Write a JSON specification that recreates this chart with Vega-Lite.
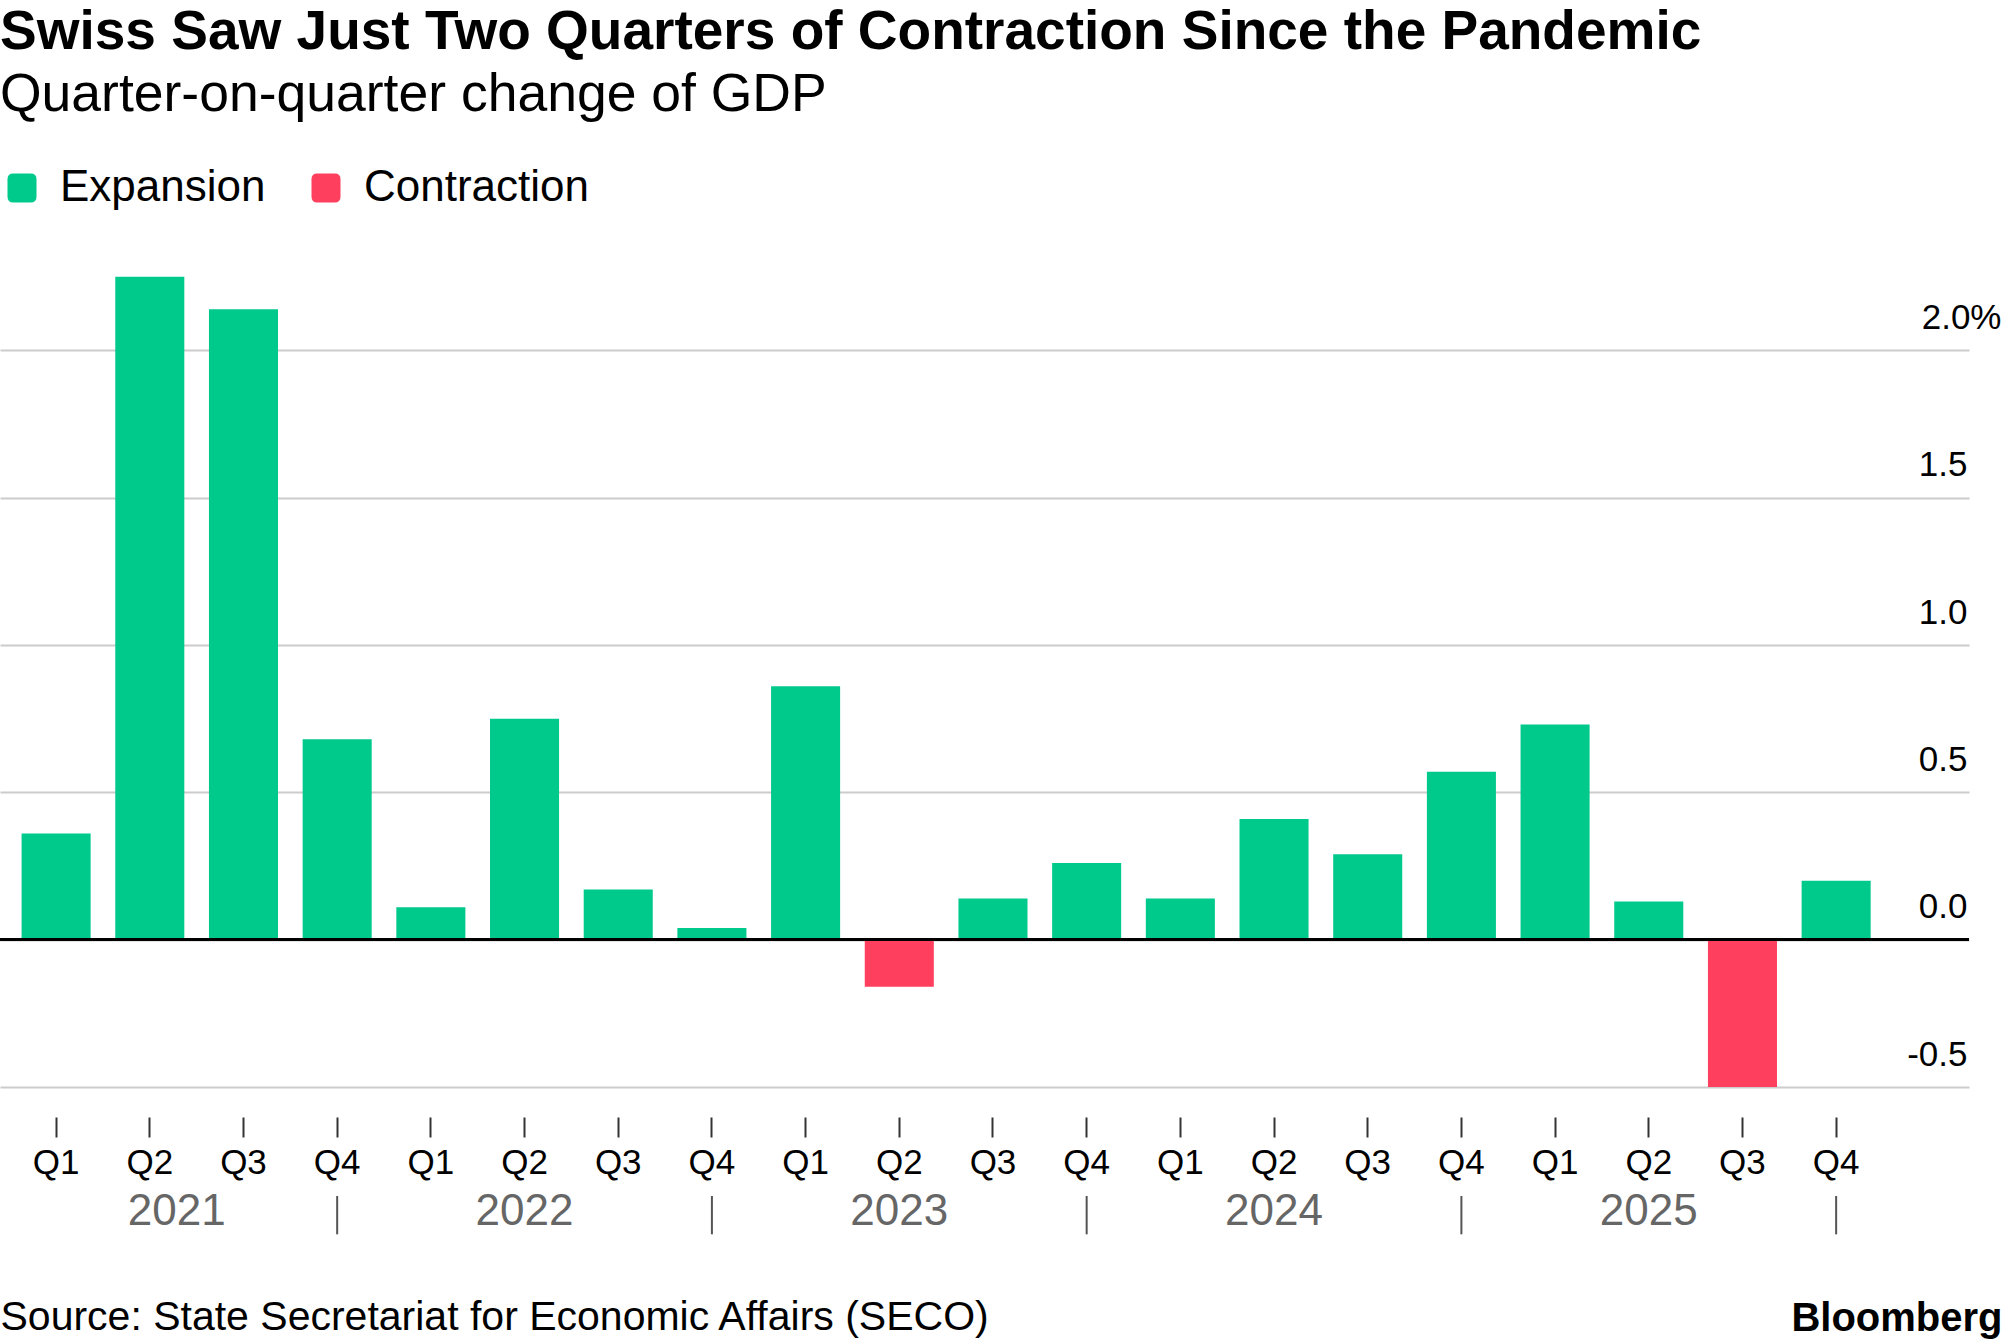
{
  "$schema": "https://vega.github.io/schema/vega-lite/v6.json",
  "width": 1969,
  "height": 825,
  "autosize": "none",
  "padding": {"left": 0, "top": 262, "right": 36, "bottom": 257},
  "background": "white",
  "title": {
    "text": "Swiss Saw Just Two Quarters of Contraction Since the Pandemic",
    "subtitle": "Quarter-on-quarter change of GDP",
    "anchor": "start",
    "frame": "group",
    "offset": 44,
    "font": "Liberation Sans",
    "fontSize": 55,
    "fontWeight": "bold",
    "color": "#000000",
    "subtitleFont": "Liberation Sans",
    "subtitleFontSize": 53.5,
    "subtitleColor": "#000000",
    "subtitlePadding": 8
  },
  "config": {
    "view": {"stroke": null},
    "font": "Liberation Sans"
  },
  "datasets": {
    "gdp": [
      {"period": "2021 Q1", "value": 0.36, "type": "Expansion"},
      {"period": "2021 Q2", "value": 2.25, "type": "Expansion"},
      {"period": "2021 Q3", "value": 2.14, "type": "Expansion"},
      {"period": "2021 Q4", "value": 0.68, "type": "Expansion"},
      {"period": "2022 Q1", "value": 0.11, "type": "Expansion"},
      {"period": "2022 Q2", "value": 0.75, "type": "Expansion"},
      {"period": "2022 Q3", "value": 0.17, "type": "Expansion"},
      {"period": "2022 Q4", "value": 0.04, "type": "Expansion"},
      {"period": "2023 Q1", "value": 0.86, "type": "Expansion"},
      {"period": "2023 Q2", "value": -0.16, "type": "Contraction"},
      {"period": "2023 Q3", "value": 0.14, "type": "Expansion"},
      {"period": "2023 Q4", "value": 0.26, "type": "Expansion"},
      {"period": "2024 Q1", "value": 0.14, "type": "Expansion"},
      {"period": "2024 Q2", "value": 0.41, "type": "Expansion"},
      {"period": "2024 Q3", "value": 0.29, "type": "Expansion"},
      {"period": "2024 Q4", "value": 0.57, "type": "Expansion"},
      {"period": "2025 Q1", "value": 0.73, "type": "Expansion"},
      {"period": "2025 Q2", "value": 0.13, "type": "Expansion"},
      {"period": "2025 Q3", "value": -0.5, "type": "Contraction"},
      {"period": "2025 Q4", "value": 0.2, "type": "Expansion"}
    ],
    "years": [
      {"period": "2021 Q2", "year": "2021"},
      {"period": "2022 Q2", "year": "2022"},
      {"period": "2023 Q2", "year": "2023"},
      {"period": "2024 Q2", "year": "2024"},
      {"period": "2025 Q2", "year": "2025"}
    ],
    "separators": [
      {"period": "2021 Q4"},
      {"period": "2022 Q4"},
      {"period": "2023 Q4"},
      {"period": "2024 Q4"},
      {"period": "2025 Q4"}
    ]
  },
  "layer": [
    {
      "data": {"name": "gdp"},
      "mark": {"type": "bar"},
      "encoding": {
        "x": {
          "field": "period",
          "type": "ordinal",
          "scale": {
            "domain": ["2021 Q1","2021 Q2","2021 Q3","2021 Q4","2022 Q1","2022 Q2","2022 Q3","2022 Q4","2023 Q1","2023 Q2","2023 Q3","2023 Q4","2024 Q1","2024 Q2","2024 Q3","2024 Q4","2025 Q1","2025 Q2","2025 Q3","2025 Q4"],
            "paddingInner": 0.263,
            "paddingOuter": 0.64,
            "align": 0.18
          },
          "axis": {
            "orient": "bottom",
            "offset": 30,
            "domain": false,
            "ticks": true,
            "tickSize": 20,
            "tickWidth": 2,
            "tickColor": "#333333",
            "labelAngle": 0,
            "labelExpr": "substring(datum.value, 5)",
            "labelFont": "Liberation Sans",
            "labelFontSize": 35,
            "labelColor": "#000000",
            "labelPadding": 8,
            "title": "Source: State Secretariat for Economic Affairs (SECO)",
            "titleFont": "Liberation Sans",
            "titleFontSize": 41,
            "titleFontWeight": "normal",
            "titleColor": "#000000",
            "titleAlign": "left",
            "titleAnchor": "start",
            "titleBaseline": "alphabetic",
            "titleX": 0,
            "titleY": 212
          }
        },
        "y": {
          "field": "value",
          "type": "quantitative",
          "scale": {"domain": [-0.5, 2.3], "nice": false, "zero": false},
          "axis": {
            "orient": "right",
            "values": [-0.5, 0, 0.5, 1, 1.5, 2],
            "grid": true,
            "gridColor": "#cccccc",
            "gridWidth": 2,
            "domain": false,
            "ticks": false,
            "labelAlign": "right",
            "labelBaseline": "alphabetic",
            "labelOffset": -22,
            "labelPadding": {"condition": {"test": "datum.value == 2", "value": 32}, "value": -2},
            "labelFont": "Liberation Sans",
            "labelFontSize": 35,
            "labelColor": "#000000",
            "labelExpr": "datum.value == 2 ? '2.0%' : replace(format(datum.value, '.1f'), '\u2212', '-')",
            "title": "Bloomberg",
            "titleFont": "Liberation Sans",
            "titleFontSize": 40,
            "titleFontWeight": "bold",
            "titleColor": "#000000",
            "titleAngle": 0,
            "titleAlign": "right",
            "titleBaseline": "alphabetic",
            "titleX": 33,
            "titleY": 1068
          }
        },
        "color": {
          "field": "type",
          "type": "nominal",
          "scale": {"domain": ["Expansion", "Contraction"], "range": ["#00C98C", "#FF3F5E"]},
          "legend": {
            "title": null,
            "orient": "none",
            "legendX": 0,
            "legendY": -96,
            "direction": "horizontal",
            "padding": 0,
            "symbolType": "M-1,-0.6 Q-1,-1 -0.6,-1 L0.6,-1 Q1,-1 1,-0.6 L1,0.6 Q1,1 0.6,1 L-0.6,1 Q-1,1 -1,0.6 Z",
            "symbolSize": 841,
            "symbolStrokeWidth": 0,
            "symbolOpacity": 1,
            "labelFont": "Liberation Sans",
            "labelFontSize": 44,
            "labelColor": "#000000",
            "labelLimit": 0,
            "labelOffset": 16,
            "columnPadding": 38
          }
        }
      }
    },
    {
      "data": {"name": "gdp"},
      "mark": {"type": "rule", "color": "#000000", "strokeWidth": 2.5},
      "encoding": {"y": {"datum": 0}}
    },
    {
      "data": {"name": "years"},
      "mark": {
        "type": "text",
        "font": "Liberation Sans",
        "fontSize": 44,
        "color": "#666666",
        "baseline": "middle",
        "align": "center",
        "dx": {"expr": "datum.year == '2021' ? 27 : 0"}
      },
      "encoding": {
        "x": {"field": "period", "type": "ordinal"},
        "y": {"datum": -0.923},
        "text": {"field": "year"}
      }
    },
    {
      "data": {"name": "separators"},
      "mark": {"type": "rule", "color": "#555555", "strokeWidth": 2},
      "encoding": {
        "x": {"field": "period", "type": "ordinal"},
        "y": {"datum": -0.87},
        "y2": {"datum": -1.0}
      }
    }
  ]
}
